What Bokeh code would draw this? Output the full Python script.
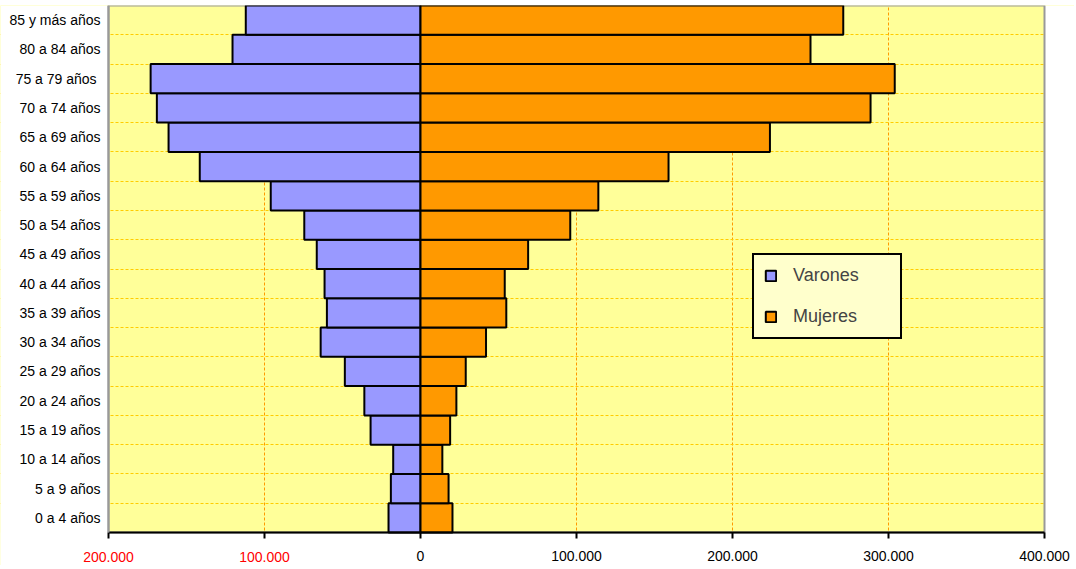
from bokeh.plotting import figure
from bokeh.models import ColumnDataSource, FixedTicker, Label, Legend, LegendItem, BoxAnnotation
from bokeh.embed import file_html
from bokeh.resources import INLINE

categories = ["0 a 4 años", "5 a 9 años", "10 a 14 años", "15 a 19 años", "20 a 24 años",
              "25 a 29 años", "30 a 34 años", "35 a 39 años", "40 a 44 años", "45 a 49 años",
              "50 a 54 años", "55 a 59 años", "60 a 64 años", "65 a 69 años", "70 a 74 años",
              "75 a 79 años ", "80 a 84 años", "85 y más años"]
varones = [20500, 19000, 17500, 32000, 36000, 48500, 64000, 60000, 61500, 66500,
           74500, 96000, 141500, 161500, 169000, 173000, 120500, 112000]
mujeres = [20500, 18000, 14000, 19000, 23000, 29000, 42000, 55000, 54000, 69000,
           96000, 114000, 159000, 224000, 288500, 304000, 250000, 271000]
x_ticks = [-200000, -100000, 0, 100000, 200000, 300000, 400000]
x_tick_labels = ["200.000", "100.000", "0", "100.000", "200.000", "300.000", "400.000"]
series_names = ["Varones", "Mujeres"]

FONT = "Liberation Sans"
n = len(categories)
idx = list(range(n))
x_lo, x_hi = x_ticks[0], x_ticks[-1]
y_lo, y_hi = -0.5, n - 0.5            # plot-area extent in row units
PLOT_W, LEFT_W, RIGHT_W = 936, 108, 30  # plot-area width and label-zone widths in px
label_zone_y = 1.127                  # rows below the plot area holding the x tick labels
px_x = (x_hi - x_lo) / PLOT_W

src = ColumnDataSource(dict(y=idx, v_left=[-v for v in varones],
                            zero=[0] * n, m=mujeres))

p = figure(frame_width=PLOT_W + LEFT_W + RIGHT_W, frame_height=560,
           x_range=(x_lo - LEFT_W * px_x, x_hi + RIGHT_W * px_x),
           y_range=(y_lo - label_zone_y, y_hi),
           output_backend="svg", toolbar_location=None,
           min_border_left=0, min_border_right=0, min_border_top=5, min_border_bottom=0)
p.background_fill_color = "#FFFF99"
p.border_fill_color = "white"
p.outline_line_color = None

# white label zones (cover grid lines outside the plot area)
p.add_layout(BoxAnnotation(top=y_lo, fill_color="white", fill_alpha=1, line_color=None,
                           level="underlay"))
p.add_layout(BoxAnnotation(right=x_lo, fill_color="white", fill_alpha=1, line_color=None,
                           level="underlay"))
p.add_layout(BoxAnnotation(left=x_hi, fill_color="white", fill_alpha=1, line_color=None,
                           level="underlay"))
# gray plot-area border
p.add_layout(BoxAnnotation(left=x_lo, right=x_hi, bottom=y_lo, top=y_hi,
                           fill_alpha=0, line_color="#999999", line_width=2, line_alpha=1,
                           level="underlay"))

rv = p.hbar(y="y", left="v_left", right="zero", height=1, source=src,
            fill_color="#9999FF", line_color="black", line_width=2)
rm = p.hbar(y="y", left="zero", right="m", height=1, source=src,
            fill_color="#FF9900", line_color="black", line_width=2)

# x axis (drawn at the bottom of the plot area)
p.xaxis.fixed_location = y_lo
p.xaxis.bounds = (x_lo, x_hi)
p.xaxis.ticker = FixedTicker(ticks=x_ticks)
p.xaxis.major_label_overrides = {t: (lab if t >= 0 else "") for t, lab in zip(x_ticks, x_tick_labels)}
p.xaxis.major_label_text_font = FONT
p.xaxis.major_label_text_font_size = "14px"
p.xaxis.major_label_text_color = "black"
p.xaxis.axis_line_color = "black"
p.xaxis.axis_line_width = 2
p.xaxis.major_tick_line_color = "black"
p.xaxis.major_tick_line_width = 2
p.xaxis.major_tick_in = 0
p.xaxis.major_tick_out = 6
p.xaxis.minor_tick_line_color = None
p.xaxis.major_label_standoff = 12

# y axis (drawn at the left of the plot area)
p.yaxis.fixed_location = x_lo
p.yaxis.bounds = (y_lo, y_hi)
p.yaxis.ticker = FixedTicker(ticks=idx)
p.yaxis.major_label_overrides = {i: c for i, c in zip(idx, categories)}
p.yaxis.major_label_text_font = FONT
p.yaxis.major_label_text_font_size = "14px"
p.yaxis.major_label_text_color = "black"
p.yaxis.major_tick_in = 0
p.yaxis.major_tick_out = 0
p.yaxis.minor_tick_line_color = None
p.yaxis.axis_line_color = "#999999"
p.yaxis.axis_line_width = 2
p.yaxis.major_label_standoff = 8

# grids
p.xgrid.ticker = FixedTicker(ticks=[t for t in x_ticks if t not in (0, x_lo, x_hi)])
p.xgrid.grid_line_color = "#FF9900"
p.xgrid.grid_line_dash = "3 2"
p.xgrid.grid_line_width = 1
p.ygrid.ticker = FixedTicker(ticks=[i + 0.5 for i in idx[:-1]])
p.ygrid.grid_line_color = "#FFCC00"
p.ygrid.grid_line_dash = "3 2"
p.ygrid.grid_line_width = 1

# red tick labels for the male (negative) side
for t, lab in zip(x_ticks, x_tick_labels):
    if t < 0:
        p.add_layout(Label(x=t, y=y_lo - 0.85, text=lab, text_color="#FF0000",
                           text_align="center", text_baseline="middle",
                           text_font=FONT, text_font_size="14px"))

legend = Legend(items=[LegendItem(label=series_names[0], renderers=[rv]),
                       LegendItem(label=series_names[1], renderers=[rm])],
                location=(752, 226))
legend.background_fill_color = "#FFFFCC"
legend.background_fill_alpha = 1
legend.border_line_color = "black"
legend.border_line_alpha = 1
legend.border_line_width = 2
legend.padding = 10
legend.spacing = 20
legend.margin = 0
legend.glyph_width = 13
legend.glyph_height = 13
legend.label_height = 21
legend.label_width = 97
legend.label_standoff = 16
legend.label_text_font = FONT
legend.label_text_font_size = "18px"
p.add_layout(legend)

open("out.html", "w").write(file_html(p, INLINE))
